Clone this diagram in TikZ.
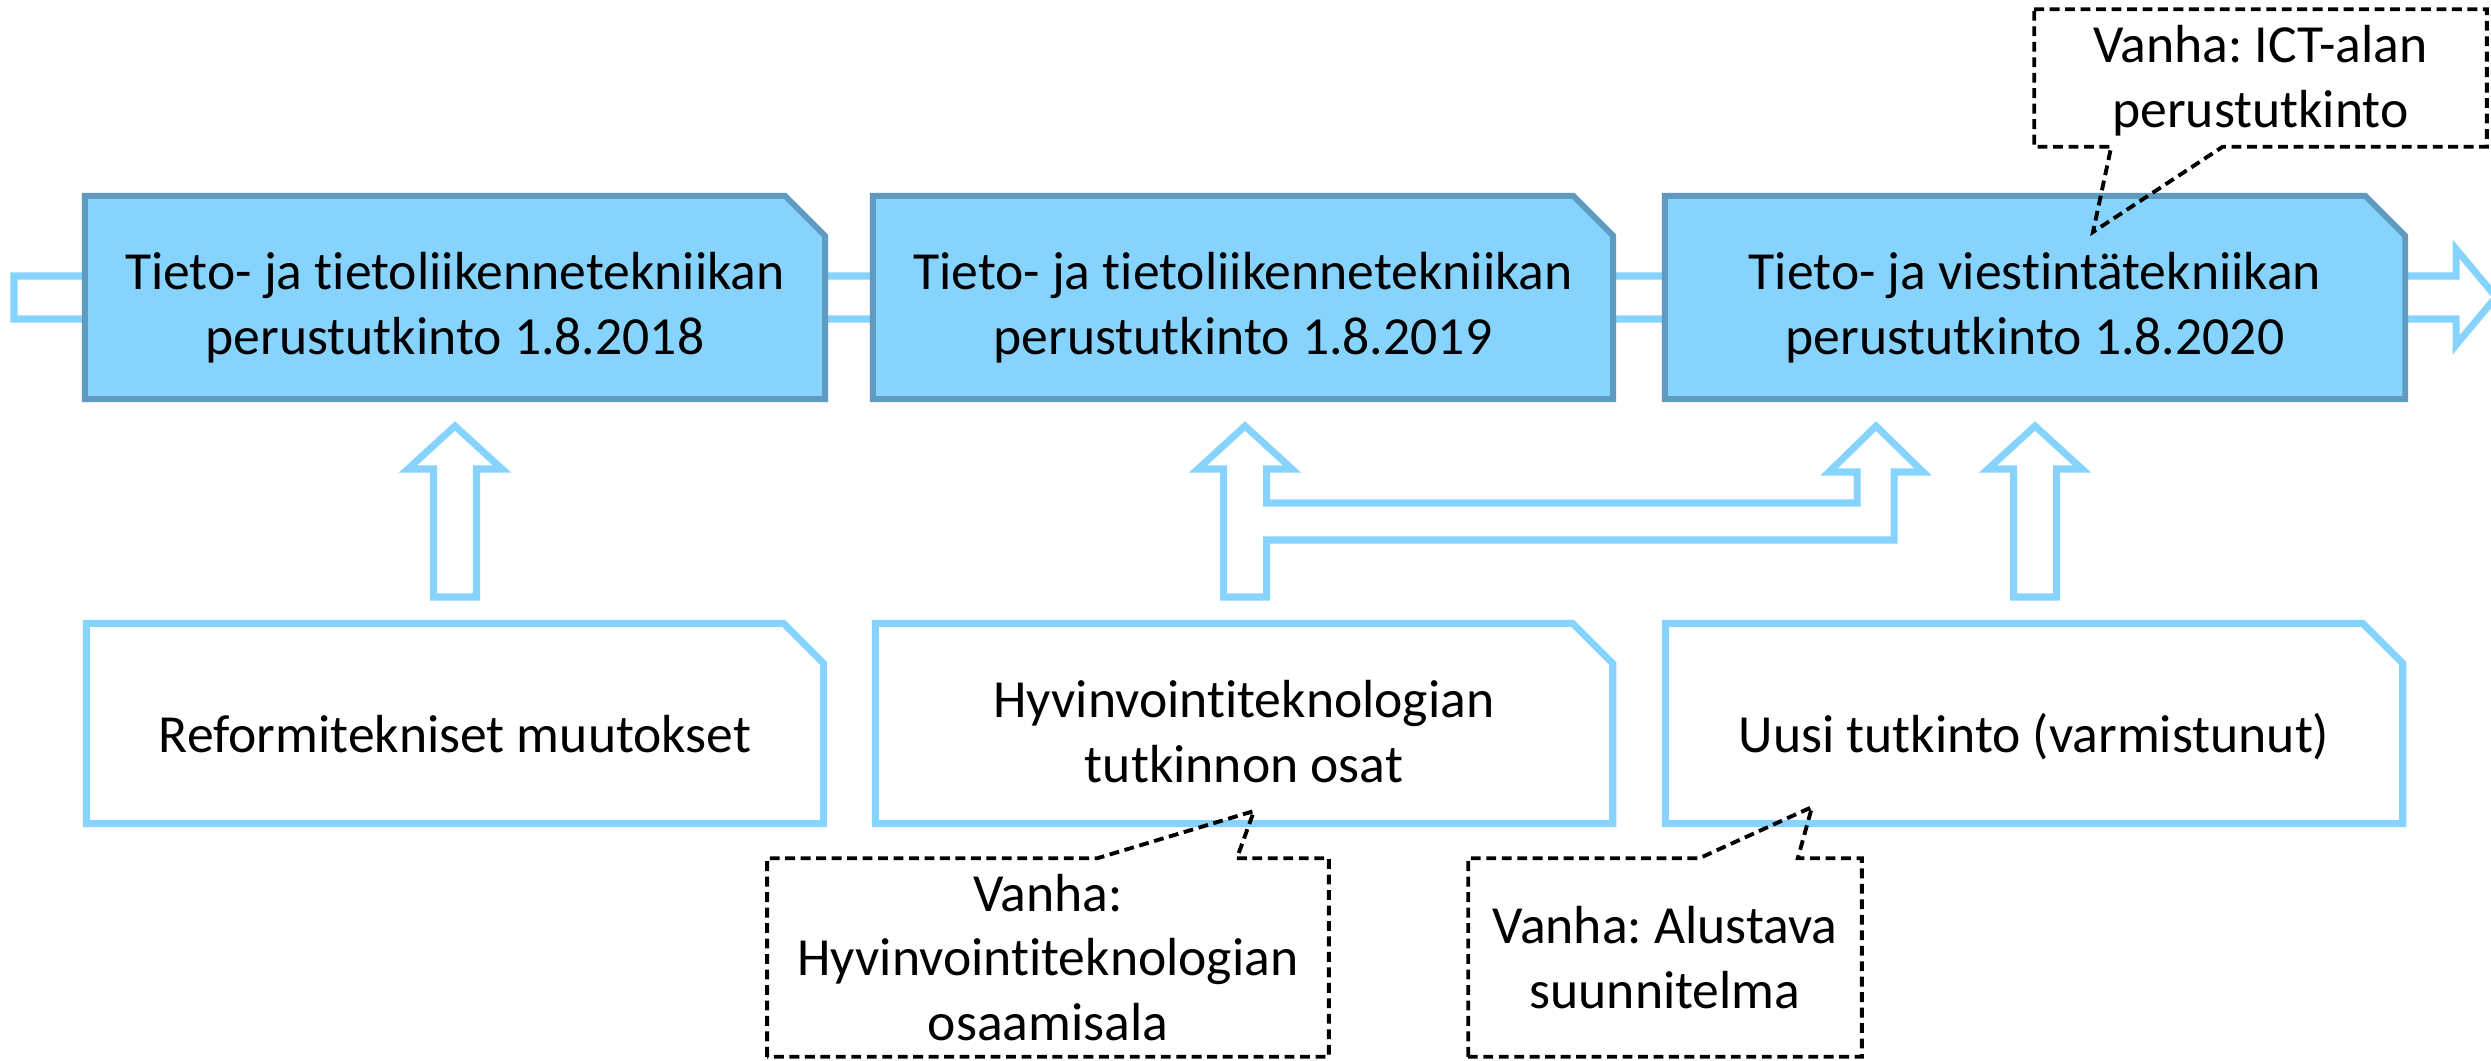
\documentclass[tikz,border=0pt]{standalone}
\usepackage{fontspec}
\setmainfont{Carlito}[Ligatures=NoCommon]
\usetikzlibrary{shapes.misc}
\definecolor{skyfill}{HTML}{86D3FE}
\definecolor{skyline}{HTML}{5F9BC1}
\frenchspacing

\begin{document}
\begin{tikzpicture}[
    x=0.01cm, y=-0.01cm,
    font=\fontsize{15.25}{18.3}\selectfont,
    stage/.style={chamfered rectangle, chamfered rectangle corners=north east,
                  chamfered rectangle xsep=0.2cm, chamfered rectangle ysep=0.2cm,
                  draw=skyline, line width=1.7pt, fill=skyfill,
                  minimum width=7.40cm, minimum height=2.03cm, inner sep=0pt,
                  align=center, text height=1.13cm, text depth=0cm},
    source/.style={stage, draw=skyfill, fill=white, line width=2pt,
                   minimum width=7.37cm, minimum height=2.00cm,
                   text height=0.57cm, text depth=0cm},
    hollow/.style={draw=skyfill, line width=2pt, fill=white, line join=miter},
    note/.style={draw=black, line width=1.1pt, dash pattern=on 2.8pt off 1.6pt},
    notetext/.style={rectangle, align=center, inner sep=0pt}
]
\useasboundingbox (0,0) rectangle (2491,1061);

% aikajana
\draw[hollow] (14,276) -- (2456,276) -- (2456,249) -- (2496,297)
    -- (2456,345) -- (2456,319) -- (14,319) -- cycle;

% tutkinnot
\node[stage] (t2018) at (455,297.5) {Tieto- ja tietoliikennetekniikan\\perustutkinto 1.8.2018};
\node[stage] (t2019) at (1243,297.5) {Tieto- ja tietoliikennetekniikan\\perustutkinto 1.8.2019};
\node[stage] (t2020) at (2035,297.5) {Tieto- ja viestintätekniikan\\perustutkinto 1.8.2020};

% muutokset
\node[source] (reform) at (455,723.5) {Reformitekniset muutokset};
\node[source, text height=1.17cm] (hyvin) at (1244,723.5)
    {Hyvinvointiteknologian\\tutkinnon osat};
\node[source] (uusi) at (2034,723.5) {Uusi tutkinto (varmistunut)};

% nuolet ylos
\foreach \cx in {455,2035}
  \draw[hollow] (\cx-21.5,597) -- (\cx-21.5,469) -- (\cx-47,469) -- (\cx,426)
      -- (\cx+47,469) -- (\cx+21.5,469) -- (\cx+21.5,597) -- cycle;
\draw[hollow] (1223.5,597) -- (1223.5,469) -- (1198,469) -- (1245,426)
    -- (1292,469) -- (1266.5,469) -- (1266.5,503) -- (1857,503) -- (1857,472)
    -- (1829,472) -- (1876,426) -- (1923,472) -- (1894,472) -- (1894,540)
    -- (1266.5,540) -- (1266.5,597) -- cycle;

% vanhat nimet
\node[notetext, minimum width=4.51cm, minimum height=1.36cm,
      text height=0.98cm, text depth=0cm] (ict) at (2260.5,78)
    {Vanha: ICT-alan\\perustutkinto};
\node[notetext, minimum width=5.60cm, minimum height=1.97cm] (hyvold) at (1048,957.5)
    {Vanha:\\Hyvinvointiteknologian\\osaamisala};
\node[notetext, minimum width=3.92cm, minimum height=1.97cm] (alust) at (1665,957.5)
    {Vanha: Alustava\\suunnitelma};
\coordinate (ictptr) at (2093,232);
\coordinate (hyvptr) at (1254,811);
\coordinate (alptr) at (1812,807);

\draw[note] (ict.north west) -- (ict.north east) -- (ict.south east)
    -- ([xshift=-2.64cm]ict.south east) -- (ictptr)
    -- ([xshift=0.77cm]ict.south west) -- (ict.south west) -- cycle;
\draw[note] (hyvold.south west) -- (hyvold.north west)
    -- ([xshift=3.30cm]hyvold.north west) -- (hyvptr)
    -- ([xshift=-0.92cm]hyvold.north east) -- (hyvold.north east)
    -- (hyvold.south east) -- cycle;
\draw[note] (alust.south west) -- (alust.north west)
    -- ([xshift=2.31cm]alust.north west) -- (alptr)
    -- ([xshift=-0.64cm]alust.north east) -- (alust.north east)
    -- (alust.south east) -- cycle;
\end{tikzpicture}
\end{document}
